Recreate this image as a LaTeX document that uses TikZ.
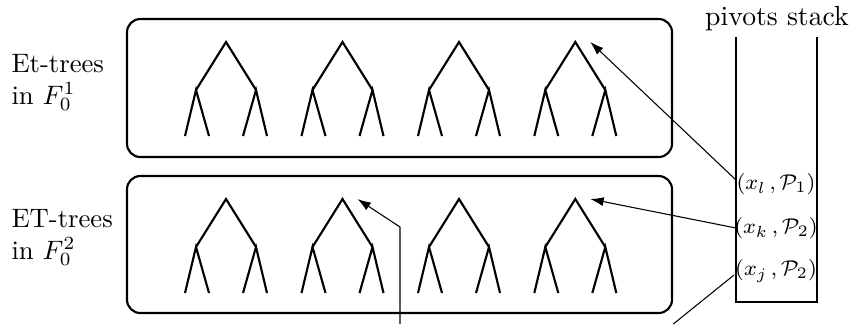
\documentclass[tikz,border=0pt]{standalone}
\usetikzlibrary{arrows.meta,calc}
\begin{document}
\begin{tikzpicture}[x=0.375pt,y=-0.375pt,
  treeline/.style={line width=0.8pt},
  frame/.style={line width=0.8pt,rounded corners=5pt},
  stackline/.style={line width=0.8pt},
  pointer/.style={line width=0.4pt,-{Latex[length=5pt,width=3.4pt]}},
  pointerline/.style={line width=0.4pt},
  sidelabel/.style={anchor=base west,inner sep=0pt,font=\fontsize{10}{11.8}\selectfont},
  entry/.style={inner sep=2.2pt,font=\fontsize{8}{9.5}\selectfont},
  tree/.pic={
    \draw[treeline] (-30,48) -- (0,0) -- (30,48);
    \draw[treeline] (-41,94) -- (-30,48) -- (-17,94);
    \draw[treeline] (17,94) -- (30,48) -- (41,94);
  }]
\useasboundingbox (0,0) rectangle (854,324);
% frames
\draw[frame] (127,19) rectangle (672,157);
\draw[frame] (127,176) rectangle (672,313);
% trees
\foreach \i/\x in {1/226,2/342.5,3/459,4/575.3}{
  \pic at (\x,42) {tree};
  \coordinate (t\i) at (\x,42);
  \pic at (\x,199) {tree};
  \coordinate (b\i) at (\x,199);
}
% side labels
\node[sidelabel] (lab1a) at (11,72) {Et-trees};
\node[sidelabel] (lab1b) at (11,104) {in $F_0^1$};
\node[sidelabel] (lab2a) at (11,227) {ET-trees};
\node[sidelabel] (lab2b) at (11,259) {in $F_0^2$};
% stack
\draw[stackline] (736,37) -- (736,302) -- (817,302) -- (817,37);
\node[anchor=base,inner sep=0pt,font=\fontsize{10.4}{12}\selectfont] (title) at (777,25) {pivots stack};
\node[entry] (e1) at (776,184) {$(x_l\,,\mathcal{P}_1)$};
\node[entry] (e2) at (776,228) {$(x_k\,,\mathcal{P}_2)$};
\node[entry] (e3) at (776,271) {$(x_j\,,\mathcal{P}_2)$};
% pointers
\coordinate (bend) at (400,227);
\coordinate (low1) at (400,324);
\coordinate (low2) at (673.3,324);
\draw[pointer] (736,180) -- ($(t4)+(15,0)$);
\draw[pointer] (736,228) -- ($(b4)+(15,0)$);
\draw[pointerline] (734,275) -- (low2);
\draw[pointer] (low1) -- (bend) -- ($(b2)+(15,0)$);
\end{tikzpicture}
\end{document}
